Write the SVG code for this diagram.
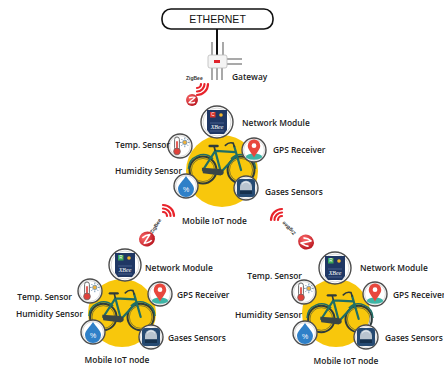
<svg xmlns="http://www.w3.org/2000/svg" width="444" height="368" viewBox="0 0 444 368">
<style>
  .lbl{font-family:"Open Sans","Liberation Sans",sans-serif;font-weight:600;font-size:8.4px;fill:#222}
  .ring{fill:#fff;stroke:#4d4d4d;stroke-width:1.4}
  .ring2{fill:none;stroke:#c8c8c8;stroke-width:0.7}
  .hub{fill:#f8c70c}
  .wifi{fill:none;stroke:#e8232b;stroke-width:2.2;stroke-linecap:round}
  .frame{fill:none;stroke:#1f6e66;stroke-width:2;stroke-linecap:round;stroke-linejoin:round}
  .wheel{fill:none;stroke:#2e3b3b;stroke-width:1.8}
  .tire{fill:none;stroke:#2e3b3b;stroke-width:0.5}
  .ant{stroke:#7a7a7a;stroke-width:1.3}
  .zbt{font-family:"Liberation Sans",sans-serif;font-weight:700;font-size:5px;fill:#333}
</style>
<defs>
  <radialGradient id="zg" cx="0.35" cy="0.35" r="0.75">
    <stop offset="0" stop-color="#ff6b6b"/>
    <stop offset="1" stop-color="#b3101a"/>
  </radialGradient>
  <!-- bicycle, wheel centres on y=0 -->
  <g id="bike">
    <circle class="wheel" cx="-17" cy="0" r="12"/>
    <circle class="tire" cx="-17" cy="0" r="10.3"/>
    <circle class="wheel" cx="17" cy="0" r="12"/>
    <circle class="tire" cx="17" cy="0" r="10.3"/>
    <path d="M-30,-1 A13,13 0 0 1 -8,-10" fill="none" stroke="#1f6e66" stroke-width="1.3"/>
    <path d="M8,-10 A13,13 0 0 1 30,-1" fill="none" stroke="#1f6e66" stroke-width="1.3"/>
    <path class="frame" d="M-17,0 L-6,-17 L12,-16 M-1,2 L-6,-17 M-17,0 L-1,2 L13,-13 M11,-21 L17,0"/>
    <path d="M-6,-17 L-7,-21" stroke="#2e3b3b" stroke-width="1.5"/>
    <path d="M-11,-21.5 L-4,-21.5" stroke="#2e3b3b" stroke-width="2.2" stroke-linecap="round"/>
    <path d="M11,-21 L10,-24 C7,-25 5,-24 3,-22" fill="none" stroke="#2e3b3b" stroke-width="1.5" stroke-linecap="round"/>
    <path d="M-18,-2 L-1,-1 Q2,2 -1,5 L-17,3 Z" fill="#3a4646"/>
    <circle cx="-1" cy="2" r="2.5" fill="#3a4646"/>
  </g>
  <g id="ring12"><circle class="ring" r="12"/><circle class="ring2" r="10.4"/></g>
  <!-- temperature sensor -->
  <g id="thermo">
    <use href="#ring12"/>
    <g transform="scale(1.2)">
      <rect x="-4.5" y="-7.5" width="4" height="11" rx="2" fill="#fff" stroke="#666" stroke-width="0.8"/>
      <line x1="-2.5" y1="-4" x2="-2.5" y2="3" stroke="#e0413a" stroke-width="1.4"/>
      <circle cx="-2.5" cy="4.5" r="2.8" fill="#e0413a" stroke="#666" stroke-width="0.6"/>
      <circle cx="4" cy="-3" r="1.8" fill="#f0b13a" stroke="#6a8fb0" stroke-width="0.7"/>
      <path d="M4,-7 V-5.6 M4,-0.4 V1 M0,-3 H1.4 M6.6,-3 H8 M1.2,-5.8 L2.2,-4.8 M5.8,-1.2 L6.8,-0.2 M1.2,-0.2 L2.2,-1.2 M5.8,-4.8 L6.8,-5.8" stroke="#6a8fb0" stroke-width="0.8"/>
    </g>
  </g>
  <!-- GPS receiver -->
  <g id="gps">
    <use href="#ring12"/>
    <g transform="scale(1.25)">
      <ellipse cx="0" cy="5.3" rx="6.5" ry="2.5" fill="#3db5a6"/>
      <path d="M0,6 C-2,2 -5,-0.5 -5,-3.5 A5,5 0 0 1 5,-3.5 C5,-0.5 2,2 0,6Z" fill="#e8473d"/>
      <circle cx="0" cy="-3.5" r="1.9" fill="#fff"/>
    </g>
  </g>
  <!-- humidity sensor -->
  <g id="drop">
    <use href="#ring12"/>
    <path d="M0,-10 C3,-5 8,-1.5 8,3 A8,8 0 0 1 -8,3 C-8,-1.5 -3,-5 0,-10Z" fill="#2f80c8"/>
    <text x="0" y="6" text-anchor="middle" font-family="Liberation Sans,sans-serif" font-size="7" fill="#fff">%</text>
  </g>
  <!-- gas sensor -->
  <g id="gas">
    <use href="#ring12"/>
    <g transform="scale(1.2)">
      <rect x="-7.5" y="-7.5" width="15" height="15" rx="2.5" fill="#264a72"/>
      <path d="M-5,-1 A5,5 0 0 1 5,-1 L5,2 L-5,2Z" fill="#b9c4cf"/>
      <rect x="-5" y="2" width="10" height="3" fill="#15304d"/>
      <path d="M-3,-3 A3,2 0 0 1 3,-3" stroke="#e8eef3" fill="none" stroke-width="0.8"/>
    </g>
  </g>
  <!-- XBee network module -->
  <g id="xbee">
    <circle class="ring" r="16"/><circle class="ring2" r="14"/>
    <path d="M-10,-12 H10 V8 L7,12 H-7 L-10,8Z" fill="#1f3764"/>
    <circle cx="4" cy="-7" r="1.8" fill="#f1b52a"/>
    <line x1="-7" y1="1" x2="7" y2="1" stroke="#6f86b3" stroke-width="0.5"/>
    <line x1="-7" y1="9" x2="7" y2="9" stroke="#6f86b3" stroke-width="0.5"/>
    <text x="0" y="7" text-anchor="middle" font-family="Liberation Serif,serif" font-style="italic" font-size="6" fill="#fff">XBee</text>
  </g>
  <g id="xbee-c">
    <use href="#xbee"/>
    <rect x="-7" y="-10" width="5.5" height="5.5" fill="#d9342b"/>
    <text x="-4.25" y="-5.6" text-anchor="middle" font-family="Liberation Sans,sans-serif" font-size="4.5" fill="#fff">C</text>
  </g>
  <g id="xbee-r">
    <use href="#xbee"/>
    <rect x="-7" y="-10" width="5.5" height="5.5" fill="#3aa655"/>
    <text x="-4.25" y="-5.6" text-anchor="middle" font-family="Liberation Sans,sans-serif" font-size="4.5" fill="#fff">R</text>
  </g>
  <!-- ZigBee badge -->
  <g id="zb">
    <circle r="7" fill="url(#zg)"/>
    <path d="M-3.5,-2.5 C-1,-3.5 2,-3.5 3.5,-3 L-3.5,3 C-1,3.5 2,3.5 3.5,2.5" fill="none" stroke="#fff" stroke-width="1.5" stroke-linejoin="round"/>
  </g>
</defs>

<rect width="444" height="368" fill="#fff"/>

<!-- links: wired uplink and radio signals -->
<g id="connectors">
  <line x1="217" y1="29" x2="217" y2="55" stroke="#111" stroke-width="2"/>
  <g id="sig-gw">
    <path class="wifi" d="M201,84 A4,4 0 0 1 197,88"/>
    <path class="wifi" d="M204.5,84 A7.5,7.5 0 0 1 197,91.5"/>
    <path class="wifi" d="M208,84 A11,11 0 0 1 197,95"/>
  </g>
  <g id="sig-left">
    <path class="wifi" d="M163,212 A4,4 0 0 1 167,216"/>
    <path class="wifi" d="M163,208.5 A7.5,7.5 0 0 1 170.5,216"/>
    <path class="wifi" d="M163,205 A11,11 0 0 1 174,216"/>
  </g>
  <g id="sig-right">
    <path class="wifi" d="M278,220 A4,4 0 0 1 282,216"/>
    <path class="wifi" d="M274.5,220 A7.5,7.5 0 0 1 282,212.5"/>
    <path class="wifi" d="M271,220 A11,11 0 0 1 282,209"/>
  </g>
</g>

<g id="ethernet">
  <rect x="162" y="9" width="111" height="20" rx="9" fill="#fff" stroke="#111" stroke-width="1.6"/>
  <text x="217.5" y="23" text-anchor="middle" font-family="Liberation Sans,Arial,sans-serif" font-size="10.5" fill="#111">ETHERNET</text>
</g>

<g id="gateway">
  <line class="ant" x1="212" y1="42" x2="212" y2="56"/>
  <line class="ant" x1="223" y1="42" x2="223" y2="56"/>
  <line class="ant" x1="212" y1="67" x2="212" y2="80"/>
  <line class="ant" x1="217" y1="67" x2="217" y2="80"/>
  <line class="ant" x1="222" y1="67" x2="222" y2="80"/>
  <line class="ant" x1="227" y1="59" x2="242" y2="59"/>
  <line class="ant" x1="227" y1="64" x2="242" y2="64"/>
  <rect x="208" y="55" width="19" height="13" rx="2" fill="#f4f4f4" stroke="#bbb" stroke-width="0.8"/>
  <rect x="214" y="60" width="6" height="3" fill="#e0232b"/>
  <text class="lbl" x="232" y="80" font-size="9">Gateway</text>
  <text class="zbt" x="186" y="80">ZigBee</text>
  <use href="#zb" transform="translate(192,100) scale(0.85)"/>
</g>

<g id="zigbee-left">
  <use href="#zb" transform="translate(147,239) rotate(-20) scale(1.15,1.05)"/>
  <text class="zbt" transform="translate(157,227) rotate(-58)" text-anchor="middle">ZigBee</text>
</g>

<g id="zigbee-right">
  <use href="#zb" transform="translate(306,242) rotate(25) scale(1.15,1.05)"/>
  <text class="zbt" transform="translate(290,227) rotate(-135)" text-anchor="middle">ZigBee</text>
</g>

<!-- mobile node attached to the gateway -->
<g id="node-top">
  <circle class="hub" cx="222" cy="171" r="36"/>
  <use href="#bike" transform="translate(222,170) scale(1.12)"/>
  <use href="#xbee-c" transform="translate(217,122)"/>
  <use href="#thermo" transform="translate(180,146)"/>
  <use href="#gps" transform="translate(254,150)"/>
  <use href="#drop" transform="translate(186,186)"/>
  <use href="#gas" transform="translate(246,188)"/>
  <text class="lbl" x="242" y="126">Network Module</text>
  <text class="lbl" x="170" y="148" text-anchor="end">Temp. Sensor</text>
  <text class="lbl" x="273" y="153">GPS Receiver</text>
  <text class="lbl" x="182" y="174" text-anchor="end">Humidity Sensor</text>
  <text class="lbl" x="265" y="195">Gases Sensors</text>
  <text class="lbl" x="214.5" y="224" text-anchor="middle">Mobile IoT node</text>
</g>

<g id="node-left">
  <circle class="hub" cx="122" cy="313" r="34"/>
  <use href="#bike" transform="translate(122,317) scale(1.1)"/>
  <use href="#xbee-r" transform="translate(125,265)"/>
  <use href="#thermo" transform="translate(90,291)"/>
  <use href="#gps" transform="translate(160,294)"/>
  <use href="#drop" transform="translate(93,332)"/>
  <use href="#gas" transform="translate(151,337)"/>
  <text class="lbl" x="145" y="271">Network Module</text>
  <text class="lbl" x="72" y="300" text-anchor="end">Temp. Sensor</text>
  <text class="lbl" x="177" y="298">GPS Receiver</text>
  <text class="lbl" x="83" y="317" text-anchor="end">Humidity Sensor</text>
  <text class="lbl" x="168" y="341">Gases Sensors</text>
  <text class="lbl" x="117" y="363" text-anchor="middle">Mobile IoT node</text>
</g>

<g id="node-right">
  <circle class="hub" cx="336" cy="313" r="34"/>
  <use href="#bike" transform="translate(340,319) scale(1.1)"/>
  <use href="#xbee-r" transform="translate(335,268)"/>
  <use href="#thermo" transform="translate(304,292)"/>
  <use href="#gps" transform="translate(375,294)"/>
  <use href="#drop" transform="translate(305,333)"/>
  <use href="#gas" transform="translate(366,337)"/>
  <text class="lbl" x="360" y="271">Network Module</text>
  <text class="lbl" x="302" y="279" text-anchor="end">Temp. Sensor</text>
  <text class="lbl" x="393" y="298">GPS Receiver</text>
  <text class="lbl" x="302" y="318" text-anchor="end">Humidity Sensor</text>
  <text class="lbl" x="385" y="341">Gases Sensors</text>
  <text class="lbl" x="346" y="364" text-anchor="middle">Mobile IoT node</text>
</g>
</svg>
